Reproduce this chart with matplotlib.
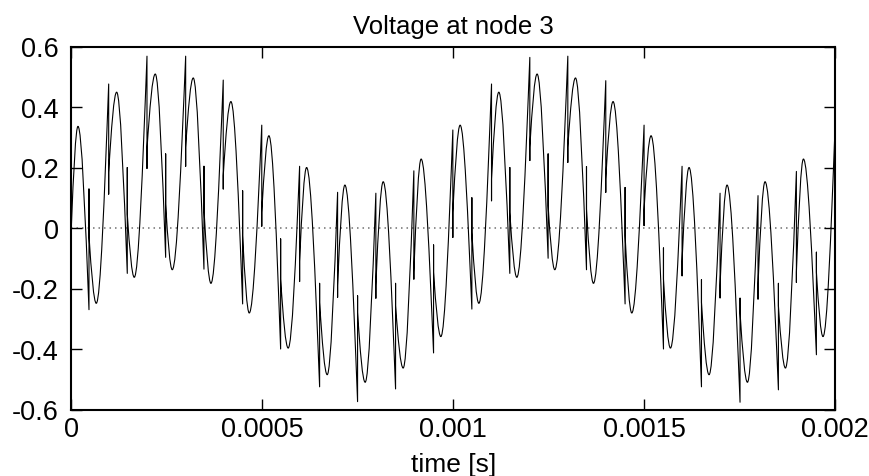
import matplotlib
matplotlib.use('Agg')
import matplotlib.pyplot as plt
from matplotlib.path import Path
from matplotlib.patches import PathPatch

plt.rcParams['font.family'] = ['Liberation Sans', 'DejaVu Sans']

# waveform, time in ms, voltage in V
# smooth (rounded) peaks and troughs, in order
ext_ms = [0.0175, 0.0654, 0.1188, 0.1649, 0.2199, 0.2644, 0.3194, 0.3657, 0.4180, 0.4660,
          0.5175, 0.5680, 0.6162, 0.6702, 0.7165, 0.7696, 0.8168, 0.8691, 0.9162, 0.9678,
          1.0183, 1.0673, 1.1196, 1.1668, 1.2199, 1.2662, 1.3204, 1.3675, 1.4188, 1.4678,
          1.5183, 1.5691, 1.6178, 1.6702, 1.7173, 1.7707, 1.8168, 1.8702, 1.9173, 1.9686]
ext_v = [0.336, -0.249, 0.449, -0.163, 0.509, -0.138, 0.496, -0.183, 0.418, -0.281,
         0.305, -0.397, 0.200, -0.485, 0.142, -0.510, 0.153, -0.463, 0.228, -0.359,
         0.340, -0.249, 0.449, -0.163, 0.509, -0.138, 0.496, -0.183, 0.418, -0.281,
         0.305, -0.397, 0.200, -0.485, 0.142, -0.510, 0.153, -0.463, 0.228, -0.359]

# sharp tips where the signal jumps, the spike end and the level it carries on from
tip_ms = [0.0463, 0.0979, 0.1466, 0.1982, 0.2471, 0.2995, 0.3474, 0.3979, 0.4487, 0.4988,
          0.5482, 0.5979, 0.6503, 0.6974, 0.7497, 0.7976, 0.8492, 0.8971, 0.9487, 0.9992,
          1.0490, 1.1005, 1.1484, 1.2008, 1.2487, 1.3003, 1.3492, 1.3997, 1.4503, 1.5000,
          1.5508, 1.5995, 1.6503, 1.6990, 1.7513, 1.7984, 1.8518, 1.8989, 1.9513]
tip_v = [-0.270, 0.476, -0.150, 0.568, -0.097, 0.568, -0.136, 0.489, -0.251, 0.340,
         -0.400, 0.204, -0.525, 0.118, -0.574, 0.115, -0.532, 0.189, -0.413, 0.324,
         -0.268, 0.476, -0.150, 0.564, -0.100, 0.568, -0.138, 0.487, -0.251, 0.340,
         -0.400, 0.204, -0.525, 0.115, -0.576, 0.107, -0.535, 0.187, -0.419]
spike_v = [0.129, 0.112, 0.200, 0.197, 0.245, 0.204, 0.204, 0.129, 0.123, 0.006,
           -0.036, -0.177, -0.183, -0.229, -0.224, -0.232, -0.183, -0.169, -0.056, -0.031,
           0.100, 0.090, 0.200, 0.223, 0.245, 0.217, 0.203, 0.118, 0.134, 0.008,
           -0.066, -0.158, -0.171, -0.231, -0.232, -0.235, -0.183, -0.180, -0.080]
resume_v = [-0.025, 0.184, 0.046, 0.261, 0.079, 0.267, 0.063, 0.173, -0.025, 0.052,
            -0.169, -0.110, -0.246, -0.190, -0.279, -0.190, -0.257, -0.146, -0.146, 0.052,
            -0.014, 0.162, 0.052, 0.267, 0.074, 0.267, 0.063, 0.162, -0.025, 0.060,
            -0.169, -0.110, -0.246, -0.190, -0.279, -0.190, -0.257, -0.146, -0.146]

start_ms, start_v = 0.0, 0.0
end_ms, end_v = 2.0, 0.327

xticks = [0, 0.0005, 0.001, 0.0015, 0.002]
xtick_labels = ['0', '0.0005', '0.001', '0.0015', '0.002']
yticks = [-0.6, -0.4, -0.2, 0, 0.2, 0.4, 0.6]
ytick_labels = ['-0.6', '-0.4', '-0.2', '0', '0.2', '0.4', '0.6']


def arc(p0, p1, steep_start):
    # cubic piece between two knots, flat at the rounded extremum
    dt = p1[0] - p0[0]
    dv = p1[1] - p0[1]
    if steep_start:
        c1 = (p0[0] + dt / 3, p0[1] + 0.55 * dv)
        c2 = (p1[0] - dt / 3, p1[1])
    else:
        c1 = (p0[0] + dt / 3, p0[1])
        c2 = (p1[0] - dt / 3, p1[1] - 0.5 * dv)
    return [c1, c2, p1]


s = 1e-3
verts = [(start_ms * s, start_v)]
codes = [Path.MOVETO]
prev = verts[0]
for i in range(len(ext_ms)):
    e = (ext_ms[i] * s, ext_v[i])
    verts += arc(prev, e, True)
    codes += [Path.CURVE4] * 3
    if i < len(tip_ms):
        t = tip_ms[i] * s
        verts += arc(e, (t, tip_v[i]), False)
        codes += [Path.CURVE4] * 3
        verts += [(t, spike_v[i]), (t, resume_v[i])]
        codes += [Path.LINETO, Path.LINETO]
        prev = (t, resume_v[i])
    else:
        verts += arc(e, (end_ms * s, end_v), False)
        codes += [Path.CURVE4] * 3

fig = plt.figure(figsize=(8.7, 4.77), dpi=100)
ax = fig.add_axes([71.3 / 870, 1 - 410.5 / 477, (835 - 71.3) / 870, (410.5 - 47.5) / 477])

ax.axhline(0, color='#707070', lw=1.1, ls=(0, (1, 2.6)), zorder=1)
ax.add_patch(PathPatch(Path(verts, codes), fill=False, ec='black', lw=0.8,
                       joinstyle='round', zorder=2))

ax.set_xlim(0, 0.002)
ax.set_ylim(-0.6, 0.6)
ax.set_xticks(xticks, xtick_labels)
ax.set_yticks(yticks, ytick_labels)
ax.tick_params(direction='in', length=8, width=1, top=True, right=True,
               labelsize=19.5, colors='black')
ax.tick_params(axis='x', pad=5)
ax.tick_params(axis='y', pad=9)
for sp in ax.spines.values():
    sp.set_linewidth(1.5)

ax.set_title('Voltage at node 3', fontsize=18.5, pad=10)
ax.set_xlabel('time [s]', fontsize=19, labelpad=7)

fig.savefig('out.png', dpi=100)
